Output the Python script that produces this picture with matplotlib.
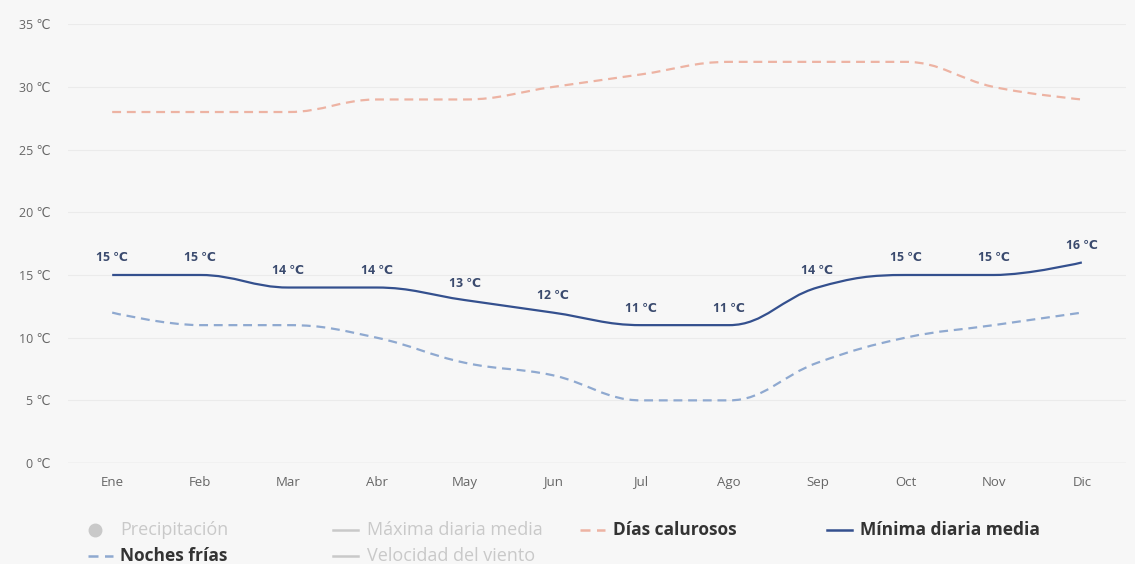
import matplotlib
matplotlib.use("Agg")
import matplotlib.pyplot as plt
from matplotlib.path import Path
from matplotlib.patches import PathPatch
from matplotlib.lines import Line2D

plt.rcParams['font.family'] = ['Open Sans', 'DejaVu Sans']

months = ["Ene", "Feb", "Mar", "Abr", "May", "Jun", "Jul", "Ago", "Sep", "Oct", "Nov", "Dic"]
dias_calurosos = [28, 28, 28, 29, 29, 30, 31, 32, 32, 32, 30, 29]
minima_media = [15, 15, 14, 14, 13, 12, 11, 11, 14, 15, 15, 16]
noches_frias = [12, 11, 11, 10, 8, 7, 5, 5, 8, 10, 11, 12]
y_ticks = [0, 5, 10, 15, 20, 25, 30, 35]

BG = "#f7f7f7"
C_HOT = "#edb3a3"
C_MIN = "#34508e"
C_COLD = "#8fa9d0"
C_TEXT = "#666666"
C_OFF = "#c9c9c9"
DASH = (0, (4, 2.6))


def spline_path(xs, ys):
    """Smooth path through the points (smoothing 1.5, no overshoot)."""
    smoothing = 1.5
    denom = smoothing + 1
    n = len(xs)
    left = [None] * n
    right = [None] * n
    for i in range(1, n - 1):
        px, py = xs[i], ys[i]
        lx, ly = xs[i - 1], ys[i - 1]
        nx, ny = xs[i + 1], ys[i + 1]
        lcx = (smoothing * px + lx) / denom
        lcy = (smoothing * py + ly) / denom
        rcx = (smoothing * px + nx) / denom
        rcy = (smoothing * py + ny) / denom
        corr = 0.0
        if rcx != lcx:
            corr = (rcy - lcy) * (rcx - px) / (rcx - lcx) + py - rcy
        lcy += corr
        rcy += corr
        if lcy > ly and lcy > py:
            lcy = max(ly, py)
            rcy = 2 * py - lcy
        elif lcy < ly and lcy < py:
            lcy = min(ly, py)
            rcy = 2 * py - lcy
        if rcy > ny and rcy > py:
            rcy = max(ny, py)
            lcy = 2 * py - rcy
        elif rcy < ny and rcy < py:
            rcy = min(ny, py)
            lcy = 2 * py - rcy
        left[i] = (lcx, lcy)
        right[i] = (rcx, rcy)
    verts = [(xs[0], ys[0])]
    codes = [Path.MOVETO]
    for i in range(1, n):
        c1 = right[i - 1] if right[i - 1] is not None else (xs[i - 1], ys[i - 1])
        c2 = left[i] if left[i] is not None else (xs[i], ys[i])
        verts += [c1, c2, (xs[i], ys[i])]
        codes += [Path.CURVE4] * 3
    return Path(verts, codes)


fig = plt.figure(figsize=(11.35, 5.64), dpi=100, facecolor=BG)
ax = fig.add_axes([0.06, 0.179, 0.932, 0.778], facecolor=BG)

x = list(range(len(months)))
ax.set_xlim(-0.5, len(months) - 0.5)
ax.set_ylim(0, 35)

for yv in y_ticks:
    ax.axhline(yv, color="#dcdcdc" if yv == 0 else "#ebebeb", lw=1.0 if yv == 0 else 0.8, zorder=0)

series = [
    (dias_calurosos, C_HOT, DASH),
    (noches_frias, C_COLD, DASH),
    (minima_media, C_MIN, "solid"),
]
for vals, col, ls in series:
    patch = PathPatch(spline_path(x, vals), facecolor="none", edgecolor=col,
                      lw=1.6, linestyle=ls, capstyle="butt", zorder=3)
    ax.add_patch(patch)

for xi, v in zip(x, minima_media):
    ax.annotate(f"{v} ℃", (xi, v), xytext=(0, 17), textcoords="offset pixels",
                ha="center", va="center", fontsize=8.8, fontweight="bold",
                color="#3a4a6e", zorder=4)

ax.set_xticks(x)
ax.set_xticklabels(months)
ax.set_yticks(y_ticks)
ax.set_yticklabels([f"{v} ℃" for v in y_ticks])
ax.tick_params(axis="both", length=0, colors=C_TEXT)
ax.tick_params(axis="x", pad=9, labelsize=9.5)
ax.tick_params(axis="y", pad=13, labelsize=9)
for s in ax.spines.values():
    s.set_visible(False)

# legend
W, H = 1135.0, 564.0


def fx(px):
    return px / W


def fy(py):
    return 1 - py / H


def legend_line(x0, y0, col, ls):
    fig.add_artist(Line2D([fx(x0), fx(x0 + 25)], [fy(y0), fy(y0)], color=col, lw=1.8,
                          linestyle=ls, transform=fig.transFigure))


def legend_text(x0, y0, txt, on):
    fig.text(fx(x0), fy(y0), txt, ha="left", va="center",
             fontsize=12.5 if on else 13,
             fontweight="bold" if on else "normal", color="#333333" if on else C_OFF)


r1, r2 = 530, 556
fig.add_artist(Line2D([fx(95)], [fy(r1)], marker="o", markersize=9, color=C_OFF,
                      lw=0, transform=fig.transFigure))
legend_text(120, r1, "Precipitación", False)
legend_line(333, r1, C_OFF, "solid")
legend_text(367, r1, "Máxima diaria media", False)
legend_line(580, r1, C_HOT, DASH)
legend_text(613, r1, "Días calurosos", True)
legend_line(827, r1, C_MIN, "solid")
legend_text(860, r1, "Mínima diaria media", True)
legend_line(88, r2, C_COLD, DASH)
legend_text(120, r2, "Noches frías", True)
legend_line(333, r2, C_OFF, "solid")
legend_text(367, r2, "Velocidad del viento", False)

fig.savefig("out.png", dpi=100, facecolor=BG)
